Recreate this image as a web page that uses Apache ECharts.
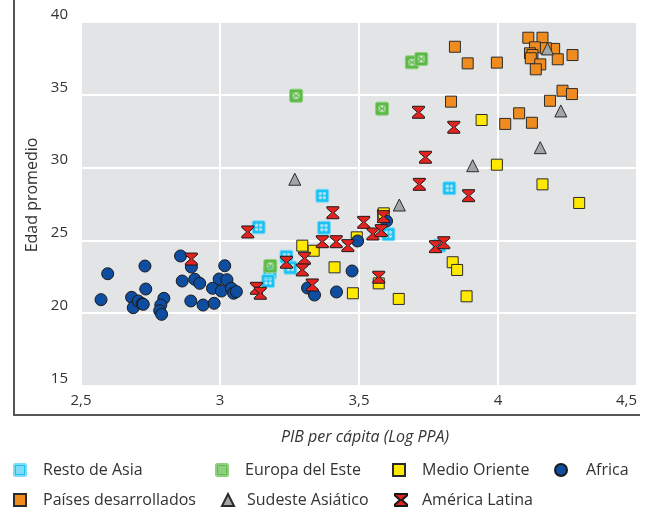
<!DOCTYPE html>
<html>
<head>
<meta charset="utf-8">
<script src="https://cdn.jsdelivr.net/npm/echarts@6/dist/echarts.min.js"></script>
<style>
html,body{margin:0;padding:0;background:#fff;}
#chart{width:661px;height:512px;}
</style>
</head>
<body>
<div id="chart"></div>
<script>
// ---- data (x = log GDP per capita PPP, y = median age) ----
const seriesNames = ['Resto de Asia','Europa del Este','Medio Oriente','Africa','Países desarrollados','Sudeste Asiático','América Latina'];
const xTicks = [2.5, 3, 3.5, 4, 4.5];
const yTicks = [15, 20, 25, 30, 35, 40];

const restoAsia = [[3.139,25.90],[3.368,28.07],[3.374,25.87],[3.239,23.88],[3.253,23.13],[3.179,22.78],[3.173,22.21],[3.606,25.42],[3.825,28.58],[3.789,24.64]];
const europaEste = [[3.181,23.24],[3.274,34.94],[3.583,34.05],[3.690,37.23],[3.724,37.46]];
const medioOriente = [[3.296,24.64],[3.337,24.29],[3.412,23.15],[3.478,21.37],[3.492,25.21],[3.589,26.86],[3.571,22.05],[3.643,20.98],[3.837,23.50],[3.853,22.97],[3.887,21.16],[3.941,33.27],[3.996,30.20],[4.160,28.85],[4.292,27.57]];
const africa = [[2.596,22.71],[2.572,20.93],[2.730,23.24],[2.733,21.66],[2.682,21.09],[2.688,20.38],[2.706,20.84],[2.720,20.65],[2.724,20.61],[2.798,21.02],[2.787,20.56],[2.783,20.17],[2.790,19.92],[2.858,23.93],[2.897,23.17],[2.864,22.21],[2.909,22.33],[2.927,22.05],[2.895,20.84],[2.939,20.56],[2.979,20.68],[3.017,23.26],[2.997,22.35],[3.025,22.30],[2.973,21.71],[3.005,21.52],[3.041,21.71],[3.049,21.37],[3.059,21.48],[3.315,21.73],[3.340,21.25],[3.419,21.46],[3.475,22.90],[3.495,24.96],[3.599,26.33]];
const desarrollados = [[3.845,38.30],[3.891,37.16],[3.996,37.21],[4.109,38.92],[4.160,38.92],[4.133,38.26],[4.115,37.85],[4.124,37.73],[4.118,37.51],[4.152,37.09],[4.136,36.75],[4.202,38.15],[4.215,37.44],[4.268,37.73],[4.172,38.20],[3.831,34.53],[4.232,35.28],[4.266,35.05],[4.187,34.59],[4.076,33.73],[4.026,33.00],[4.122,33.08],[3.587,26.75]];
const sudesteAsiatico = [[3.269,29.20],[3.645,27.43],[3.909,30.13],[4.152,31.37],[4.226,33.89],[4.178,38.15]];
const americaLatina = [[2.897,23.72],[3.100,25.58],[3.131,21.71],[3.145,21.37],[3.239,23.50],[3.304,23.77],[3.296,22.97],[3.332,21.94],[3.368,24.91],[3.418,24.91],[3.460,24.64],[3.406,26.90],[3.517,26.24],[3.550,25.44],[3.580,25.67],[3.588,26.63],[3.571,22.47],[3.775,24.57],[3.805,24.84],[3.714,33.80],[3.841,32.77],[3.739,30.71],[3.717,28.85],[3.894,28.07]];

// ---- symbols ----
const symAsia = 'path://M1.5,0 H10.5 Q12,0 12,1.5 V10.5 Q12,12 10.5,12 H1.5 Q0,12 0,10.5 V1.5 Q0,0 1.5,0 Z M3,3 V5.2 H5.2 V3 Z M6.8,3 V5.2 H9 V3 Z M3,6.8 V9 H5.2 V6.8 Z M6.8,6.8 V9 H9 V6.8 Z';
const symEuropa = 'path://M1.5,0 H10.5 Q12,0 12,1.5 V10.5 Q12,12 10.5,12 H1.5 Q0,12 0,10.5 V1.5 Q0,0 1.5,0 Z M3.5,3 L6,5.5 L8.5,3 Z M3.5,9 L8.5,9 L6,6.5 Z M3,3.8 V8.2 L4.5,6 Z M9,3.8 L7.5,6 L9,8.2 Z';
const symHour = 'path://M0,0 L12,0 L12,1.6 L7,6 L12,10.4 L12,12 L0,12 L0,10.4 L5,6 L0,1.6 Z';

const dark = '#2b2b2b';
const cfg = {
  'Resto de Asia': {data: restoAsia, symbol: symAsia, size: 13, color: '#1cc0f2', border: '#7fdcf7', bw: 1},
  'Europa del Este': {data: europaEste, symbol: symEuropa, size: 13, color: '#5cb947', border: '#8fd07f', bw: 1},
  'Medio Oriente': {data: medioOriente, symbol: 'rect', size: 11, color: '#ffe900', border: dark, bw: 1},
  'Africa': {data: africa, symbol: 'circle', size: 12, color: '#0e4d9f', border: '#1a1a1a', bw: 1},
  'Países desarrollados': {data: desarrollados, symbol: 'rect', size: 11, color: '#f08c1f', border: dark, bw: 1},
  'Sudeste Asiático': {data: sudesteAsiatico, symbol: 'triangle', size: 12, color: '#a3a4a6', border: dark, bw: 1},
  'América Latina': {data: americaLatina, symbol: symHour, size: 12, color: '#e42320', border: '#1a1a1a', bw: 1}
};
const drawOrder = ['Países desarrollados','Medio Oriente','Resto de Asia','Europa del Este','Africa','Sudeste Asiático','América Latina'];

const series = drawOrder.map(n => ({
  name: n, type: 'scatter', data: cfg[n].data,
  symbol: cfg[n].symbol, symbolSize: cfg[n].size,
  itemStyle: {color: cfg[n].color, borderColor: cfg[n].border, borderWidth: cfg[n].bw, opacity: 1},
  emphasis: {disabled: true}
}));

// legend layout: [name, left, top, textPad]
const legendPos = [
  ['Resto de Asia', 13, 462, 12],
  ['Europa del Este', 215, 462, 12],
  ['Medio Oriente', 392, 462, 12],
  ['Africa', 554, 462, 14],
  ['Países desarrollados', 13, 492, 12],
  ['Sudeste Asiático', 221, 492, 8],
  ['América Latina', 394, 492, 10]
];
const legends = legendPos.map(p => ({
  data: [p[0]], left: p[1], top: p[2], padding: 0,
  itemWidth: 12, itemHeight: 12, selectedMode: false,
  textStyle: {fontFamily: 'Open Sans', fontSize: 16, color: '#333', padding: [0,0,0,p[3]]}
}));

const chart = echarts.init(document.getElementById('chart'), null, {renderer: 'canvas'});
chart.setOption({
  animation: false,
  backgroundColor: '#ffffff',
  grid: {left: 81, top: 22, width: 556, height: 364, show: true, backgroundColor: '#e3e4e6', borderWidth: 0},
  legend: legends,
  xAxis: {
    type: 'value', min: xTicks[0], max: xTicks[xTicks.length-1], interval: 0.5,
    axisLine: {show: false}, axisTick: {show: false},
    splitLine: {show: true, lineStyle: {color: '#ffffff', width: 2}},
    axisLabel: {margin: 7, fontFamily: 'Open Sans', fontSize: 15, color: '#333',
      alignMaxLabel: 'right',
      formatter: v => String(v).replace('.', ',')}
  },
  yAxis: {
    type: 'value', min: yTicks[0], max: yTicks[yTicks.length-1], interval: 5,
    axisLine: {show: false}, axisTick: {show: false},
    splitLine: {show: true, lineStyle: {color: '#ffffff', width: 2}},
    axisLabel: {margin: 13, fontFamily: 'Open Sans', fontSize: 15, color: '#333', verticalAlign: 'bottom'}
  },
  graphic: [
    {type: 'line', shape: {x1: 14, y1: 0, x2: 14, y2: 415}, style: {stroke: '#555', lineWidth: 2}},
    {type: 'line', shape: {x1: 13, y1: 415, x2: 640, y2: 415}, style: {stroke: '#555', lineWidth: 2}},
    {type: 'text', x: 365, y: 437,
      style: {text: 'PIB per cápita (Log PPA)', fontFamily: 'Open Sans', fontStyle: 'italic', fontSize: 16, fill: '#333', align: 'center', verticalAlign: 'middle'}},
    {type: 'text', x: 24, y: 195, rotation: Math.PI/2,
      style: {text: 'Edad promedio', fontFamily: 'Open Sans', fontSize: 16, fill: '#333', align: 'center', verticalAlign: 'top'}}
  ],
  series: series
});
</script>
</body>
</html>
